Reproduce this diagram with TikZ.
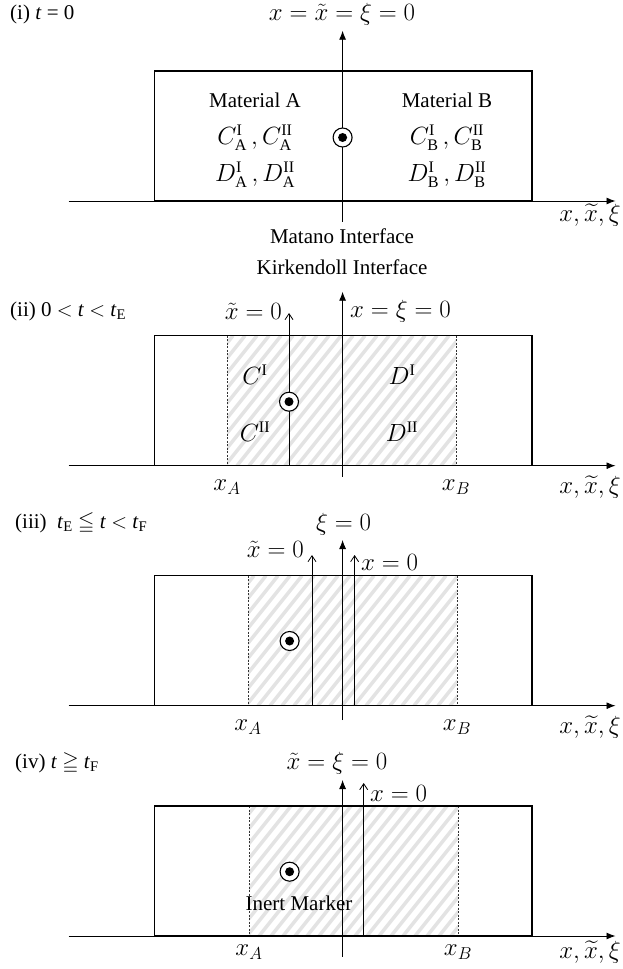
\documentclass[tikz,border=0pt]{standalone}
\usepackage{amssymb}
\usepackage{fontspec}
\setmainfont{Liberation Serif}
\usetikzlibrary{arrows.meta}
\tikzset{
  lbl/.style={inner sep=0pt, font=\fontsize{21}{25}\selectfont},
  mlbl/.style={inner sep=0pt, font=\fontsize{23}{27}\selectfont},
  box/.style={line width=1.2pt},
  mainaxis/.style={line width=0.9pt, -{Latex[length=9pt,width=7pt]}},
  openarrow/.style={line width=0.8pt, -{Straight Barb[length=6pt,width=8pt]}},
  bound/.style={line width=0.6pt, dash pattern=on 2pt off 1.5pt, black!80},
  stripe/.style={line width=3.5pt, black!11},
  marker/.style={circle, draw, line width=1.1pt, fill=white, minimum size=19pt, inner sep=0pt,
    path picture={\fill[black] (path picture bounding box.center) circle (4.5pt);}},
}
\newcommand\hatchband[4]{%
  \begin{scope}
    \clip (#1,#3) rectangle (#2,#4);
    \foreach \s in {0,12,...,360} \draw[stripe] (#1-110+\s,#4) -- ++(104,-130);
  \end{scope}
  \draw[bound] (#1,#3) -- (#1,#4);
  \draw[bound] (#2,#3) -- (#2,#4);
}
\begin{document}
\begin{tikzpicture}[x=1pt,y=-1pt]
\useasboundingbox (0,0) rectangle (623,969);

% ---------------- Panel (i)
\node[lbl, anchor=west] (t1) at (10,14) {(i) \textit{t} = 0};
\node[mlbl] (top1) at (342,14) {$x = \tilde{x} = \xi = 0$};
\draw[box] (154.6,71) rectangle (531.9,201);
\coordinate (a1s) at (68.5,201); \coordinate (a1e) at (615.5,201);
\draw[mainaxis] (a1s) -- (a1e);
\coordinate (v1s) at (342.6,221.7); \coordinate (v1e) at (342.6,30.7);
\draw[mainaxis] (v1s) -- (v1e);
\node[marker] (m1) at (342.6,137.5) {};
\node[lbl] (matA) at (255,100) {Material A};
\node[mlbl] (cA) at (255,138) {$C^{\mathrm{I}}_{\mathrm{A}}\,, C^{\mathrm{II}}_{\mathrm{A}}$};
\node[mlbl] (dA) at (255,175) {$D^{\mathrm{I}}_{\mathrm{A}}\,, D^{\mathrm{II}}_{\mathrm{A}}$};
\node[lbl] (matB) at (447,100) {Material B};
\node[mlbl] (cB) at (447,138) {$C^{\mathrm{I}}_{\mathrm{B}}\,, C^{\mathrm{II}}_{\mathrm{B}}$};
\node[mlbl] (dB) at (447,175) {$D^{\mathrm{I}}_{\mathrm{B}}\,, D^{\mathrm{II}}_{\mathrm{B}}$};
\node[mlbl] (ax1) at (590,215) {$x, \widetilde{x}, \xi$};
\node[lbl] (mat) at (342,236) {Matano Interface};
\node[lbl] (kir) at (342,267) {Kirkendoll Interface};

% ---------------- Panel (ii)
\node[lbl, anchor=west] (t2) at (10,311) {(ii) 0 $<$ \textit{t} $<$ \textit{t}\textsubscript{E}};
\hatchband{227}{456}{335.7}{465.7}
\draw[box] (154.6,335.7) rectangle (531.9,465.7);
\coordinate (a2s) at (68.5,465.7); \coordinate (a2e) at (615.5,465.7);
\draw[mainaxis] (a2s) -- (a2e);
\coordinate (v2s) at (342.6,476.7); \coordinate (v2e) at (342.6,291.7);
\draw[mainaxis] (v2s) -- (v2e);
\coordinate (xt2s) at (289,465.7); \coordinate (xt2e) at (289,313);
\draw[openarrow] (xt2s) -- (xt2e);
\node[mlbl, anchor=east] (lxt2) at (282,311) {$\tilde{x} = 0$};
\node[mlbl, anchor=west] (lx2) at (350,311) {$x = \xi = 0$};
\node[marker] (m2) at (289,401.7) {};
\node[mlbl] (c1) at (255,375) {$C^{\mathrm{I}}$};
\node[mlbl] (d1) at (402,375) {$D^{\mathrm{I}}$};
\node[mlbl] (c2) at (255,432) {$C^{\mathrm{II}}$};
\node[mlbl] (d2) at (402,432) {$D^{\mathrm{II}}$};
\node[mlbl] (xa2) at (227,487) {$x_A$};
\node[mlbl] (xb2) at (456,487) {$x_B$};
\node[mlbl] (ax2) at (590,487) {$x, \widetilde{x}, \xi$};

% ---------------- Panel (iii)
\node[lbl, anchor=west] (t3) at (15,523) {(iii)\ \ \textit{t}\textsubscript{E} $\leqq$ \textit{t} $<$ \textit{t}\textsubscript{F}};
\hatchband{248}{457}{575.7}{705.7}
\draw[box] (154.6,575.7) rectangle (531.9,705.7);
\coordinate (a3s) at (68.5,705.7); \coordinate (a3e) at (615.5,705.7);
\draw[mainaxis] (a3s) -- (a3e);
\coordinate (v3s) at (342.6,720); \coordinate (v3e) at (342.6,540);
\draw[mainaxis] (v3s) -- (v3e);
\coordinate (xt3s) at (312,705.7); \coordinate (xt3e) at (312,555);
\draw[openarrow] (xt3s) -- (xt3e);
\coordinate (x3s) at (354.6,705.7); \coordinate (x3e) at (354.6,555);
\draw[openarrow] (x3s) -- (x3e);
\node[mlbl] (lxi3) at (343.5,524) {$\xi = 0$};
\node[mlbl, anchor=east] (lxt3) at (304,549) {$\tilde{x} = 0$};
\node[mlbl, anchor=west] (lx3) at (361,562) {$x = 0$};
\node[marker] (m3) at (289.6,641) {};
\node[mlbl] (xa3) at (248,727) {$x_A$};
\node[mlbl] (xb3) at (457,727) {$x_B$};
\node[mlbl] (ax3) at (590,727) {$x, \widetilde{x}, \xi$};

% ---------------- Panel (iv)
\node[lbl, anchor=west] (t4) at (15,763) {(iv) \textit{t} $\geqq$ \textit{t}\textsubscript{F}};
\hatchband{249}{458}{806}{936}
\draw[box] (154.6,806) rectangle (531.9,936);
\coordinate (a4s) at (68.5,936); \coordinate (a4e) at (615.5,936);
\draw[mainaxis] (a4s) -- (a4e);
\coordinate (v4s) at (342.6,956.7); \coordinate (v4e) at (342.6,780);
\draw[mainaxis] (v4s) -- (v4e);
\coordinate (x4s) at (363.7,936); \coordinate (x4e) at (363.7,783);
\draw[openarrow] (x4s) -- (x4e);
\node[mlbl] (lxt4) at (337,763) {$\tilde{x} = \xi = 0$};
\node[mlbl, anchor=west] (lx4) at (370,793) {$x = 0$};
\node[marker] (m4) at (289.6,871.7) {};
\node[lbl] (inert) at (299,903) {Inert Marker};
\node[mlbl] (xa4) at (249,952) {$x_A$};
\node[mlbl] (xb4) at (458,952) {$x_B$};
\node[mlbl] (ax4) at (590,952) {$x, \widetilde{x}, \xi$};
\end{tikzpicture}
\end{document}
